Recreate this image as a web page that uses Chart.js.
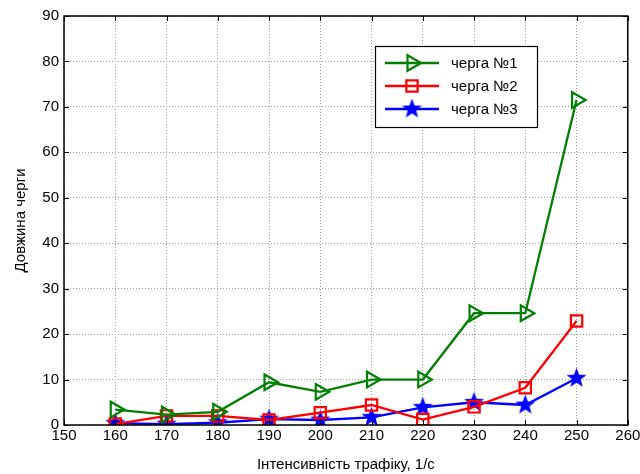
<!DOCTYPE html>
<html>
<head>
<meta charset="utf-8">
<script src="https://cdn.jsdelivr.net/npm/chart.js@4/dist/chart.umd.min.js"></script>
<style>
  html, body { margin: 0; padding: 0; background: #fff; }
  #wrap { width: 640px; height: 474px; }
</style>
</head>
<body>
<div id="wrap"><canvas id="myChart" width="640" height="474"></canvas></div>
<script>
const intensity = [160, 170, 180, 190, 200, 210, 220, 230, 240, 250];
const queue1 = [3.4, 2.3, 2.9, 9.4, 7.3, 10.0, 10.0, 24.6, 24.6, 71.5];
const queue2 = [0.2, 2.0, 2.0, 1.1, 2.7, 4.4, 1.2, 4.0, 8.2, 22.9];
const queue3 = [0.4, 0.2, 0.5, 1.3, 1.1, 1.7, 3.9, 5.0, 4.4, 10.3];
const seriesNames = ["черга №1", "черга №2", "черга №3"];
const xTicks = [150, 160, 170, 180, 190, 200, 210, 220, 230, 240, 250, 260];
const yTicks = [0, 10, 20, 30, 40, 50, 60, 70, 80, 90];

const FONT = "'Liberation Sans', Arial, sans-serif";

// filled five point star for the third series
const makeStar = (size, color) => {
  const c = document.createElement("canvas");
  c.width = size;
  c.height = size;
  const g = c.getContext("2d");
  const cx = size / 2, cy = size / 2, R = size / 2, r = R * 0.42;
  g.beginPath();
  for (let i = 0; i < 10; i++) {
    const rad = i % 2 === 0 ? R : r;
    const a = -Math.PI / 2 + (i * Math.PI) / 5;
    const px = cx + rad * Math.cos(a);
    const py = cy + rad * Math.sin(a);
    if (i === 0) g.moveTo(px, py);
    else g.lineTo(px, py);
  }
  g.closePath();
  g.fillStyle = color;
  g.fill();
  return c;
};
const star = makeStar(21, "#0000ff");

const toPoints = (ys) => intensity.map((x, i) => ({ x, y: ys[i] }));

// box, inner ticks and the legend, MATLAB style
const boxPlugin = {
  id: "box",
  afterDraw(chart) {
    const { ctx, chartArea: a, scales } = chart;
    ctx.save();
    ctx.strokeStyle = "#000";
    ctx.lineWidth = 1;
    ctx.beginPath();
    xTicks.forEach((v) => {
      const px = Math.round(scales.x.getPixelForValue(v)) + 0.5;
      ctx.moveTo(px, a.bottom); ctx.lineTo(px, a.bottom - 5);
      ctx.moveTo(px, a.top); ctx.lineTo(px, a.top + 5);
    });
    yTicks.forEach((v) => {
      const py = Math.round(scales.y.getPixelForValue(v)) + 0.5;
      ctx.moveTo(a.left, py); ctx.lineTo(a.left + 5, py);
      ctx.moveTo(a.right, py); ctx.lineTo(a.right - 5, py);
    });
    ctx.stroke();
    ctx.lineWidth = 1.5;
    ctx.strokeRect(a.left, a.top, a.right - a.left, a.bottom - a.top);

    // legend
    const lx = 375, ly = 46, lw = 162, lh = 81;
    ctx.fillStyle = "#fff";
    ctx.fillRect(lx, ly, lw, lh);
    ctx.strokeStyle = "#000";
    ctx.lineWidth = 1.2;
    ctx.strokeRect(lx + 0.5, ly + 0.5, lw, lh);
    ctx.font = "15px " + FONT;
    ctx.textBaseline = "middle";
    chart.data.datasets.forEach((ds, i) => {
      const y = ly + 17 + i * 23;
      ctx.strokeStyle = ds.borderColor;
      ctx.lineWidth = ds.borderWidth;
      ctx.beginPath();
      ctx.moveTo(lx + 10, y); ctx.lineTo(lx + 64, y);
      ctx.stroke();
      ctx.fillStyle = "rgba(0,0,0,0)";
      ctx.strokeStyle = ds.pointBorderColor;
      ctx.lineWidth = ds.pointBorderWidth;
      Chart.helpers.drawPoint(ctx, {
        pointStyle: ds.pointStyle,
        radius: ds.pointRadius,
        rotation: ds.pointRotation || 0,
        borderWidth: ds.pointBorderWidth,
      }, lx + 37, y);
      ctx.fillStyle = "#000";
      ctx.fillText(ds.label, lx + 76, y + 1);
    });
    ctx.restore();
  },
};

const commonDs = {
  borderWidth: 2.3,
  pointBorderWidth: 2.2,
  pointBackgroundColor: "rgba(0,0,0,0)",
  fill: false,
  tension: 0,
};

new Chart(document.getElementById("myChart").getContext("2d"), {
  type: "line",
  data: {
    datasets: [
      {
        ...commonDs,
        label: seriesNames[0],
        data: toPoints(queue1),
        borderColor: "#008000",
        pointBorderColor: "#008000",
        pointStyle: "triangle",
        pointRotation: 90,
        pointRadius: 9,
      },
      {
        ...commonDs,
        label: seriesNames[1],
        data: toPoints(queue2),
        borderColor: "#ff0000",
        pointBorderColor: "#ff0000",
        pointStyle: "rect",
        pointRadius: 8,
      },
      {
        ...commonDs,
        label: seriesNames[2],
        data: toPoints(queue3),
        borderColor: "#0000ff",
        pointBorderColor: "#0000ff",
        pointStyle: star,
        pointRadius: 10,
      },
    ],
  },
  options: {
    responsive: false,
    animation: false,
    layout: { padding: { left: 12, right: 12, top: 16, bottom: 0 } },
    plugins: {
      legend: { display: false },
      tooltip: { enabled: false },
    },
    scales: {
      x: {
        type: "linear",
        min: 150,
        max: 260,
        afterBuildTicks: (s) => { s.ticks = xTicks.map((v) => ({ value: v })); },
        afterFit: (s) => { s.height = 49; s.paddingRight = 0; s.paddingLeft = 0; },
        ticks: { color: "#000", font: { size: 15, family: FONT }, padding: 2 },
        grid: { color: "#9a9a9a", lineWidth: 1, tickLength: 0 },
        border: { display: false, dash: [1, 2] },
        title: {
          display: true,
          text: "Інтенсивність трафіку, 1/с",
          color: "#000",
          font: { size: 15, family: FONT },
          padding: { top: 2, bottom: 0 },
        },
      },
      y: {
        min: 0,
        max: 90,
        afterBuildTicks: (s) => { s.ticks = yTicks.map((v) => ({ value: v })); },
        afterFit: (s) => { s.width = 52; },
        ticks: { color: "#000", font: { size: 15, family: FONT }, padding: 5 },
        grid: { color: "#9a9a9a", lineWidth: 1, tickLength: 0 },
        border: { display: false, dash: [1, 2] },
        title: {
          display: true,
          text: "Довжина черги",
          color: "#000",
          font: { size: 15, family: FONT },
          padding: { top: 0, bottom: 4 },
        },
      },
    },
  },
  plugins: [boxPlugin],
});
</script>
</body>
</html>
